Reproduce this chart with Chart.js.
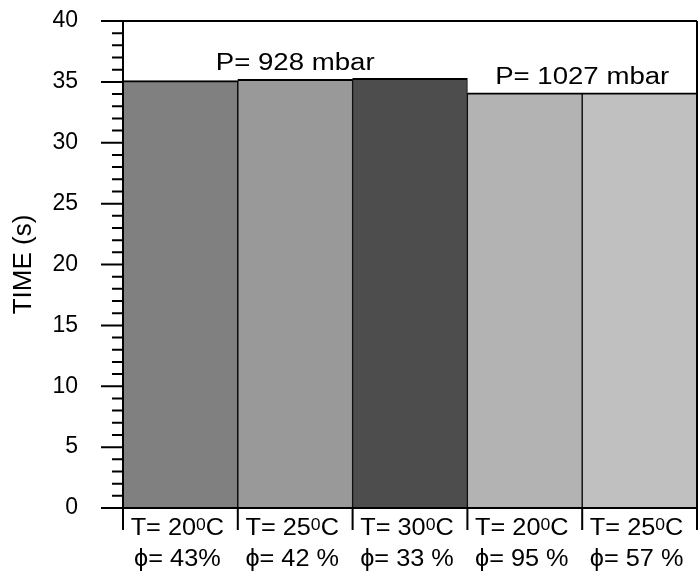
<!DOCTYPE html>
<html>
<head>
<meta charset="utf-8">
<script src="https://cdn.jsdelivr.net/npm/chart.js@4.4.0/dist/chart.umd.min.js"></script>
<style>
  html, body { margin: 0; padding: 0; background: #fff; }
  #wrap { width: 699px; height: 571px; }
</style>
</head>
<body>
<div id="wrap"><canvas id="myChart"></canvas></div>
<script>
// data
const temps = ['20', '25', '30', '20', '25']
const humidity = ['43%', '42 %', '33 %', '95 %', '57 %']
const times = [35.1, 35.2, 35.3, 34.1, 34.1]
const barColors = ['#808080', '#999999', '#4d4d4d', '#b3b3b3', '#c0c0c0']
const yTicks = [0, 5, 10, 15, 20, 25, 30, 35, 40]
const pressureText = ['P= 928 mbar', 'P= 1027 mbar']
const pressureGroups = [[0, 1, 2], [3, 4]]

const FONT = '"Liberation Sans", Arial, sans-serif'

// text drawn a bit wider, like the original figure
function wideParts (ctx, parts, cx, cy, size, sx) {
  ctx.save()
  ctx.textBaseline = 'alphabetic'
  ctx.textAlign = 'left'
  let w = 0
  parts.forEach((p) => {
    ctx.font = (p.sup ? Math.round(size * 0.68) : size) + 'px ' + FONT
    p.w = ctx.measureText(p.t).width
    w += p.w
  })
  ctx.translate(cx, cy + size * 0.36)
  ctx.scale(sx, 1)
  let x = -w / 2
  parts.forEach((p) => {
    ctx.font = (p.sup ? Math.round(size * 0.68) : size) + 'px ' + FONT
    ctx.fillText(p.t, x, p.sup ? -size * 0.24 : 0)
    x += p.w
  })
  ctx.restore()
}

const framePlugin = {
  id: 'frame',
  afterDraw (chart) {
    const ctx = chart.ctx
    const x = chart.scales.x
    const y = chart.scales.y
    const { left, right, top, bottom } = chart.chartArea
    const half = (x.getPixelForValue(1) - x.getPixelForValue(0)) / 2
    ctx.save()
    ctx.strokeStyle = '#000'
    ctx.fillStyle = '#000'
    ctx.lineWidth = 2

    ctx.beginPath()
    // top, baseline
    ctx.moveTo(left - 22, top); ctx.lineTo(right, top)
    ctx.moveTo(left - 22, bottom); ctx.lineTo(right, bottom)
    // right side
    ctx.moveTo(right, top); ctx.lineTo(right, bottom + 22)
    // y axis
    ctx.moveTo(left, top); ctx.lineTo(left, bottom + 22)
    // y ticks, major and minor
    for (let v = y.min; v <= y.max; v++) {
      const py = y.getPixelForValue(v)
      const len = yTicks.includes(v) ? 22 : 11
      ctx.moveTo(left - len, py); ctx.lineTo(left, py)
    }
    // category separators below the baseline
    times.forEach((t, i) => {
      const px = x.getPixelForValue(i) + half
      ctx.moveTo(px, bottom); ctx.lineTo(px, bottom + 22)
    })
    ctx.stroke()

    // category labels
    temps.forEach((t, i) => {
      const cx = x.getPixelForValue(i) - 3
      wideParts(ctx, [{ t: 'T= ' + t }, { t: '0', sup: true }, { t: 'C' }], cx, bottom + 19, 23, 1.1)
      wideParts(ctx, [{ t: '\u03d5= ' + humidity[i] }], cx, bottom + 50, 23, 1.1)
    })

    // pressure notes
    pressureGroups.forEach((g, k) => {
      const cx = (x.getPixelForValue(g[0]) + x.getPixelForValue(g[g.length - 1])) / 2
      const top = Math.max(...g.map((i) => times[i]))
      const cy = y.getPixelForValue(top) - 17
      wideParts(ctx, [{ t: pressureText[k] }], cx, cy, 23, 1.2)
    })
    ctx.restore()
  }
}

const ctx = document.getElementById('myChart').getContext('2d')
const myChart = new Chart(ctx, {
  type: 'bar',
  data: {
    labels: temps,
    datasets: [
      {
        data: times,
        backgroundColor: barColors,
        borderColor: '#000',
        borderWidth: { top: 2, left: 1, right: 1, bottom: 0 },
        borderSkipped: false,
        barPercentage: 1,
        categoryPercentage: 1
      }
    ]
  },
  options: {
    responsive: true,
    maintainAspectRatio: false,
    animation: false,
    events: [],
    layout: { autoPadding: false, padding: { top: 21, right: 2, left: 0, bottom: 0 } },
    plugins: {
      legend: { display: false },
      tooltip: { enabled: false }
    },
    scales: {
      x: {
        ticks: { display: false },
        grid: { display: false },
        border: { display: false },
        afterFit: (scale) => {
          scale.height = 63
          scale.paddingLeft = 0
          scale.paddingRight = 0
        }
      },
      y: {
        min: 0,
        max: 40,
        afterBuildTicks: (scale) => { scale.ticks = yTicks.map((v) => ({ value: v })) },
        ticks: {
          color: '#000',
          padding: 45,
          font: { family: FONT, size: 23 }
        },
        grid: { display: false, drawTicks: false },
        border: { display: false },
        title: {
          display: true,
          text: 'TIME (s)',
          color: '#000',
          font: { family: FONT, size: 26 },
          padding: { top: 8, bottom: 0 }
        },
        afterFit: (scale) => {
          scale.width = 123
          scale.paddingTop = 0
          scale.paddingBottom = 0
        }
      }
    }
  },
  plugins: [framePlugin]
})
</script>
</body>
</html>
